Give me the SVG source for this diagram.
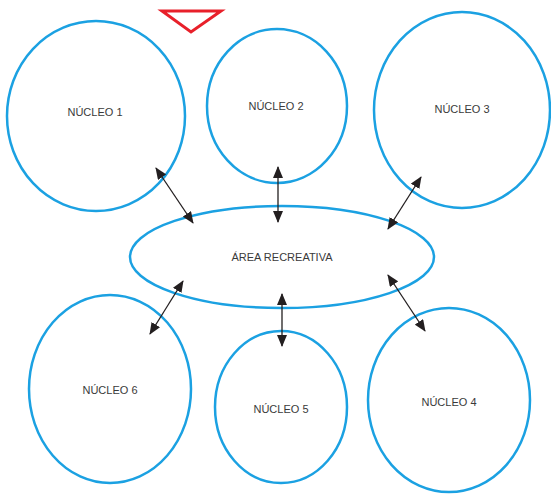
<svg xmlns="http://www.w3.org/2000/svg" width="551" height="495" viewBox="0 0 551 495">
<style>
.n{fill:none;stroke:#1ba1e2;stroke-width:2.5}
.t{font-family:"Liberation Sans",Arial,sans-serif;font-size:11px;fill:#3a3a3a;text-anchor:middle;dominant-baseline:middle}
.c{stroke:#231f20;stroke-width:1.3;fill:none;marker-start:url(#a);marker-end:url(#a)}
</style>
<defs>
<marker id="a" viewBox="0 0 12 10" refX="11" refY="5" markerWidth="12" markerHeight="10" markerUnits="userSpaceOnUse" orient="auto-start-reverse">
<path d="M0,0 L12,5 L0,10 Z" fill="#231f20"/>
</marker>
</defs>
<rect width="551" height="495" fill="#fff"/>
<polygon points="162,11 221,11 191,32" fill="none" stroke="#e8202a" stroke-width="3"/>
<g id="nucleo1"><ellipse class="n" cx="96" cy="116" rx="89" ry="95"/><text class="t" x="95" y="113">NÚCLEO 1</text></g>
<g id="nucleo2"><ellipse class="n" cx="277" cy="106" rx="70" ry="77"/><text class="t" x="276" y="107">NÚCLEO 2</text></g>
<g id="nucleo3"><ellipse class="n" cx="462" cy="110" rx="88" ry="98"/><text class="t" x="462" y="110">NÚCLEO 3</text></g>
<g id="area"><ellipse class="n" cx="282" cy="257" rx="152" ry="51"/><text class="t" x="282" y="258">ÁREA RECREATIVA</text></g>
<g id="nucleo6"><ellipse class="n" cx="110" cy="389" rx="81" ry="94"/><text class="t" x="110" y="391">NÚCLEO 6</text></g>
<g id="nucleo5"><ellipse class="n" cx="281" cy="407" rx="66" ry="76"/><text class="t" x="281" y="410">NÚCLEO 5</text></g>
<g id="nucleo4"><ellipse class="n" cx="449" cy="400" rx="81" ry="92"/><text class="t" x="449" y="403">NÚCLEO 4</text></g>
<g id="connectors">
<line class="c" x1="156" y1="168" x2="193" y2="223"/>
<line class="c" x1="278" y1="167" x2="278" y2="222"/>
<line class="c" x1="421" y1="177" x2="388" y2="229"/>
<line class="c" x1="183" y1="281" x2="150" y2="334"/>
<line class="c" x1="388" y1="275" x2="425" y2="331"/>
<line class="c" x1="282" y1="294" x2="282" y2="346"/>
</g>
</svg>
